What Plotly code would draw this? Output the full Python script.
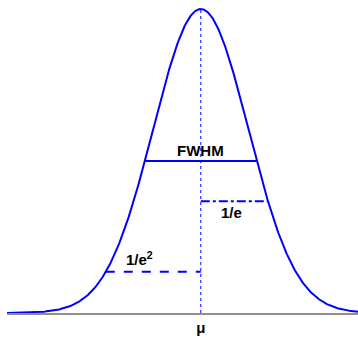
import numpy as np
import plotly.graph_objects as go

# Gaussian beam profile parameters (units of sigma)
mu = 0.0
sigma = 1.0
amplitude = 1.0

# Width markers: label, level relative to peak, x-extent, dash style
marker_labels = ["FWHM", "1/e", "1/e<sup>2</sup>"]
marker_levels = [0.5, np.exp(-1), np.exp(-2)]
marker_x0 = [-np.sqrt(2 * np.log(2)), 0.0, -2.0]
marker_x1 = [np.sqrt(2 * np.log(2)), np.sqrt(2), 0.0]
marker_dash = ["solid", "dashdot", "dash"]
label_x = [0.0, 0.65, -1.3]
label_y = [0.535, 0.33, 0.178]

tick_vals = [mu]
tick_text = ["μ"]

x_range = [-4.08, 3.31]
y_range = [0, 1.0296]

blue = "#0000ff"

x = np.linspace(x_range[0], x_range[1], 600)
y = amplitude * np.exp(-((x - mu) ** 2) / (2 * sigma ** 2))

fig = go.Figure()

fig.add_trace(go.Scatter(x=x, y=y, mode="lines",
                         line=dict(color=blue, width=2), hoverinfo="skip"))

# dotted centre line
fig.add_trace(go.Scatter(x=[mu, mu], y=[0, amplitude], mode="lines",
                         line=dict(color=blue, width=1, dash="dot"), hoverinfo="skip"))

for lvl, a, b, d in zip(marker_levels, marker_x0, marker_x1, marker_dash):
    fig.add_trace(go.Scatter(x=[a, b], y=[lvl, lvl], mode="lines",
                             line=dict(color=blue, width=2, dash=d), hoverinfo="skip"))

for txt, lx, ly in zip(marker_labels, label_x, label_y):
    fig.add_annotation(x=lx, y=ly, text="<b>" + txt + "</b>", showarrow=False,
                       font=dict(family="Liberation Sans, Arial", size=15, color="black"))

fig.update_layout(
    width=358, height=340,
    margin=dict(l=7, r=0, t=0, b=27),
    paper_bgcolor="white", plot_bgcolor="white",
    showlegend=False,
    xaxis=dict(range=x_range, showgrid=False, zeroline=False,
               showline=True, linecolor="#909090", linewidth=2,
               tickvals=tick_vals, ticktext=["<b>" + t + "</b>" for t in tick_text],
               ticks="", tickfont=dict(family="Liberation Sans, Arial", size=15, color="black")),
    yaxis=dict(range=y_range, showgrid=False, zeroline=False, showline=False,
               showticklabels=False, ticks=""),
)

fig.write_html("out.html")
